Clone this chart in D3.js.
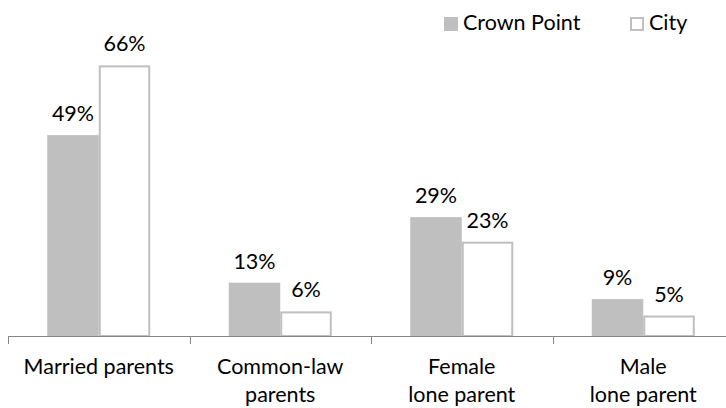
<!DOCTYPE html>
<html><head><meta charset="utf-8">
<script src="https://cdn.jsdelivr.net/npm/d3@7"></script>
<style>body{margin:0;background:#fff}svg{display:block}text{font-family:Lato,"Open Sans",sans-serif;fill:#000}</style>
</head><body><svg id="c" width="726" height="408"></svg>
<script>
const categories = ["Married parents", "Common-law parents", "Female lone parent", "Male lone parent"];
const categoryLines = [["Married parents"], ["Common-law", "parents"], ["Female", "lone parent"], ["Male", "lone parent"]];
const seriesNames = ["Crown Point", "City"];
const crownPoint = [49, 13, 29, 9];
const city = [66, 6, 23, 5];

const svg = d3.select("#c");
const base = 336, fs = 21.5;
const x0 = d3.scaleBand().domain(categories).range([8, 8 + 4 * 181.5]).paddingInner(0).paddingOuter(0);
const x1 = d3.scaleBand().domain(seriesNames).range([0, x0.bandwidth()]).paddingInner(0).paddingOuter(0.762);
const y = d3.scaleLinear().domain([0, 80]).range([base, base - 80 * 4.1]);

const series = [
  {name: "Crown Point", values: crownPoint, fill: "#bfbfbf", stroke: "none"},
  {name: "City", values: city, fill: "#fff", stroke: "#bfbfbf"}
];

series.forEach(s => {
  const g = svg.append("g");
  categories.forEach((c, i) => {
    const v = s.values[i];
    const xl = x0(c) + x1(s.name), w = x1.bandwidth();
    if (s.stroke === "none") {
      g.append("rect").attr("x", xl).attr("y", y(v)).attr("width", w).attr("height", base - y(v)).attr("fill", s.fill);
    } else {
      g.append("rect").attr("x", xl + 1).attr("y", y(v) + 1).attr("width", w - 2).attr("height", base - y(v) - 1)
        .attr("fill", s.fill).attr("stroke", s.stroke).attr("stroke-width", 2);
    }
    g.append("text").attr("x", xl + w / 2).attr("y", y(v) - 14).attr("text-anchor", "middle")
      .attr("font-size", fs).text(v + "%");
  });
});

// axis
const ax = svg.append("g");
ax.append("line").attr("x1", 8).attr("x2", 726).attr("y1", base + 0.5).attr("y2", base + 0.5).attr("stroke", "#868686").attr("stroke-width", 1);
categories.forEach(c => {
  ax.append("line").attr("x1", Math.round(x0(c)) + 0.5).attr("x2", Math.round(x0(c)) + 0.5)
    .attr("y1", base).attr("y2", base + 8).attr("stroke", "#868686");
});
categoryLines.forEach((lines, i) => {
  const cx = x0(categories[i]) + x0.bandwidth() / 2;
  lines.forEach((l, j) => {
    ax.append("text").attr("x", cx).attr("y", 374 + j * 28).attr("text-anchor", "middle").attr("font-size", fs).text(l);
  });
});

// legend
const leg = svg.append("g");
const legX = [444, 630];
series.forEach((s, i) => {
  if (s.stroke === "none")
    leg.append("rect").attr("x", legX[i]).attr("y", 17).attr("width", 14).attr("height", 14).attr("fill", s.fill);
  else
    leg.append("rect").attr("x", legX[i] + 1).attr("y", 18).attr("width", 12).attr("height", 12).attr("fill", "#fff").attr("stroke", s.stroke).attr("stroke-width", 2);
  leg.append("text").attr("x", legX[i] + 19).attr("y", 30).attr("font-size", fs).text(s.name);
});
</script></body></html>
